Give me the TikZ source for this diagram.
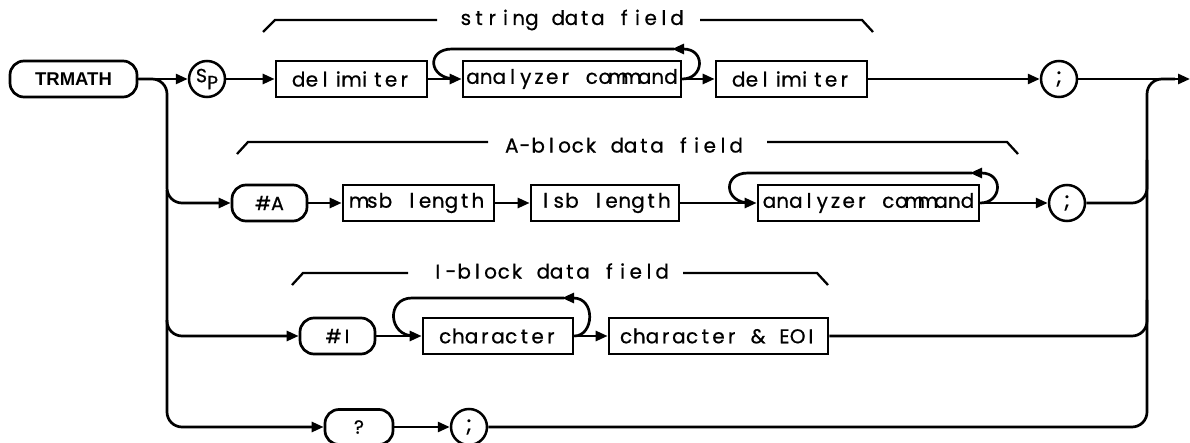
\documentclass[tikz,border=0pt]{standalone}
\usepackage{fontspec}
\setmainfont{Poppins}
\newfontfamily\hpplain[FakeBold=0.7]{Poppins}
\newfontfamily\hpbold{Liberation Sans}
\usetikzlibrary{arrows.meta,calc}
\makeatletter
\newlength\hppitch
\setlength\hppitch{13.2pt}
\def\hpword#1{\@tfor\hpc:=#1\do{\makebox[\hppitch]{\hpc}}}
\def\hpsplit#1 #2\hpend{\hpword{#1}\if\relax\detokenize{#2}\relax\else\hbox to\hppitch{}\hpsplit#2\hpend\fi}
\newcommand\hp[1]{\hpsplit#1 \hpend}
\makeatother
\newcommand\hptext{\hpplain\fontsize{20}{22}\selectfont}
\newcommand\hpkey{\hpplain\fontsize{19}{22}\selectfont}
\tikzset{
  ln/.style={line width=2.7pt},
  arr/.style={ln,-{Triangle[length=12pt,width=10pt]}},
  box/.style={draw,line width=2.7pt,minimum height=36pt,inner sep=0pt,font=\hptext},
  rbox/.style={draw,line width=2.7pt,minimum height=36pt,inner sep=0pt,rounded corners=14pt,font=\hpkey},
  circ/.style={draw,circle,line width=2.5pt,minimum size=36pt,inner sep=0pt,font=\hpkey},
  brk/.style={line width=2.3pt},
  lbl/.style={inner sep=0pt,font=\hptext},
  rnd/.style={rounded corners=15pt}
}
\begin{document}
\begin{tikzpicture}[x=1pt,y=-1pt]
\useasboundingbox (0,0) rectangle (1190,443);
% row 1
\node[rbox,minimum width=127pt,font=\hpbold\bfseries\fontsize{18.5}{22}\selectfont] (tr) at (73.5,79) {TRMATH};
\node[circ] (sp) at (207,79) {\fontsize{19}{20}\selectfont\raisebox{3pt}{S}\raisebox{-4pt}{P}};
\node[box,minimum width=151pt] (del1) at (351.5,79) {\hp{delimiter}};
\node[box,minimum width=218pt] (an1) at (572,79) {\hp{analyzer command}};
\node[box,minimum width=151pt] (del2) at (791.5,79) {\hp{delimiter}};
\node[circ] (s1) at (1059,79) {\fontsize{22}{22}\selectfont;};
\coordinate (end) at (1190,79);
% row 2
\node[rbox,minimum width=75pt] (ha) at (269.5,203) {\#A};
\node[box,minimum width=151pt] (msb) at (418.5,203) {\hp{msb length}};
\node[box,minimum width=148pt] (lsb) at (605,203) {\hp{lsb length}};
\node[box,minimum width=221pt] (an2) at (868.5,203) {\hp{analyzer command}};
\node[circ] (s2) at (1067,203) {\fontsize{22}{22}\selectfont;};
% row 3
\node[rbox,minimum width=75pt] (hi) at (337.5,336) {\#\,I};
\node[box,minimum width=150pt] (ch) at (498,336) {\hp{character}};
\node[box,minimum width=219pt] (che) at (718.5,336) {\hp{character \& EOI}};
% row 4
\node[rbox,minimum width=68pt,minimum height=35pt] (q) at (359,427) {?};
\node[circ] (s4) at (469,427) {\fontsize{22}{22}\selectfont;};
% labels and brackets
\node[lbl] (l1) at (571.5,20) {\hp{string data field}};
\node[lbl] (l2) at (624,145) {\hp{A-block data field}};
\node[lbl] (l3) at (550,271) {\hp{I-block data field}};
\draw[brk] (263,32) -- (275,20) -- (437,20);
\draw[brk] (700,20) -- (862,20) -- (873,32);
\draw[brk] (237,154) -- (248,142) -- (488,142);
\draw[brk] (767,142) -- (1007,142) -- (1018,154);
\draw[brk] (292,285) -- (303,273) -- (408,273);
\draw[brk] (683,273) -- (817,273) -- (828,285);
% row 1 connectors
\draw[arr] (tr.east) -- (sp.west);
\draw[arr] (sp.east) -- (del1.west);
\draw[arr] (del1.east) -- (an1.west);
\draw[arr] (an1.east) -- (del2.west);
\draw[arr] (del2.east) -- (s1.west);
\draw[arr] (s1.east) -- (end);
\draw[arr] (an1.east) .. controls (704,79) and (706,49) .. (672,49);
\draw[ln] (674,49) -- (452,49) .. controls (426,49) and (428,79) .. (456,79);
% left branches
\draw[arr,rnd] (tr.east) -- (167,79) -- (167,203) -- (ha.west);
\draw[arr,rnd] (167,190) -- (167,336) -- (hi.west);
\draw[arr,rnd] (167,320) -- (167,427) -- (q.west);
% row 2 connectors
\draw[arr] (ha.east) -- (msb.west);
\draw[arr] (msb.east) -- (lsb.west);
\draw[arr] (lsb.east) -- (an2.west);
\draw[arr] (an2.east) -- (s2.west);
\draw[arr] (an2.east) .. controls (1002,203) and (1004,173) .. (970,173);
\draw[ln] (972,173) -- (748,173) .. controls (722,173) and (724,203) .. (750,203);
% row 3 connectors
\draw[arr] (hi.east) -- (ch.west);
\draw[arr] (ch.east) -- (che.west);
\draw[arr] (ch.east) .. controls (594,336) and (596,298) .. (562,298);
\draw[ln] (564,298) -- (412,298) .. controls (386,298) and (388,336) .. (414,336);
% row 4
\draw[arr] (q.east) -- (s4.west);
% right joins
\draw[ln,rnd] (s4.east) -- (1147,427) -- (1147,79) -- (1175,79);
\draw[ln,rnd] (s2.east) -- (1147,203) -- (1147,160);
\draw[ln,rnd] (che.east) -- (1147,336) -- (1147,300);
\end{tikzpicture}
\end{document}
